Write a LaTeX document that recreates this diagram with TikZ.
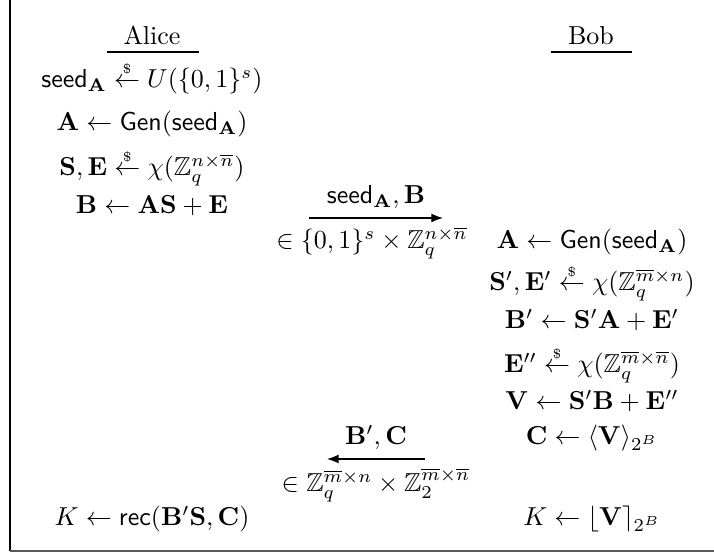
\documentclass[tikz,border=0pt]{standalone}
\usepackage{amsmath,amssymb}
\usetikzlibrary{arrows.meta}
\newcommand{\smp}{\mathrel{\overset{\scriptscriptstyle\$}{\leftarrow}}}
\newcommand{\sd}{\mathsf{seed}_{\mathbf{A}}}
\begin{document}
\begin{tikzpicture}[x=0.385pt,y=-0.385pt,
  row/.style={anchor=base,inner sep=0pt},
  msg/.style={-{Latex[length=4.5pt,width=3.5pt]},line width=0.5pt},
  rule/.style={line width=0.5pt}]
\useasboundingbox (0,0) rectangle (714,558);
% frame
\draw[line width=0.7pt] (10,0) -- (10,551);
\draw[line width=0.9pt,black!65] (10,551) -- (714,551);
% headers
\node[row] (alice) at (152,45) {Alice};
\coordinate (au1) at (107,52); \coordinate (au2) at (199,52);
\draw[rule] (au1) -- (au2);
\node[row] (bob) at (591,45) {Bob};
\coordinate (bu1) at (551,52); \coordinate (bu2) at (632,52);
\draw[rule] (bu1) -- (bu2);
% Alice
\node[row] (a1) at (152,88) {$\sd \smp U(\{0,1\}^s)$};
\node[row] (a2) at (152,131) {$\mathbf{A}\leftarrow\mathsf{Gen}(\sd)$};
\node[row] (a3) at (152,176) {$\mathbf{S},\mathbf{E}\smp\chi(\mathbb{Z}_q^{n\times\overline{n}})$};
\node[row] (a4) at (152,214) {$\mathbf{B}\leftarrow\mathbf{AS}+\mathbf{E}$};
% Bob
\node[row] (b1) at (592,249) {$\mathbf{A}\leftarrow\mathsf{Gen}(\sd)$};
\node[row] (b2) at (592,291) {$\mathbf{S}',\mathbf{E}'\smp\chi(\mathbb{Z}_q^{\overline{m}\times n})$};
\node[row] (b3) at (592,329) {$\mathbf{B}'\leftarrow\mathbf{S}'\mathbf{A}+\mathbf{E}'$};
\node[row] (b4) at (592,373) {$\mathbf{E}''\smp\chi(\mathbb{Z}_q^{\overline{m}\times\overline{n}})$};
\node[row] (b5) at (592,410) {$\mathbf{V}\leftarrow\mathbf{S}'\mathbf{B}+\mathbf{E}''$};
\node[row] (b6) at (592,445) {$\mathbf{C}\leftarrow\langle\mathbf{V}\rangle_{2^B}$};
% keys
\node[row] (ka) at (152,526) {$K\leftarrow\mathsf{rec}(\mathbf{B}'\mathbf{S},\mathbf{C})$};
\node[row] (kb) at (592,526) {$K\leftarrow\lfloor\mathbf{V}\rceil_{2^B}$};
% messages
\coordinate (m1s) at (309,218); \coordinate (m1e) at (443,218);
\draw[msg] (m1s) -- (m1e)
  node[midway,above] (m1t) {$\sd,\mathbf{B}$}
  node[midway,below,xshift=-1.5pt] (m1b) {$\in\{0,1\}^s\times\mathbb{Z}_q^{n\times\overline{n}}$};
\coordinate (m2s) at (425,459); \coordinate (m2e) at (327,459);
\draw[msg] (m2s) -- (m2e)
  node[midway,above] (m2t) {$\mathbf{B}',\mathbf{C}$}
  node[midway,below] (m2b) {$\in\mathbb{Z}_q^{\overline{m}\times n}\times\mathbb{Z}_2^{\overline{m}\times\overline{n}}$};
\end{tikzpicture}
\end{document}
